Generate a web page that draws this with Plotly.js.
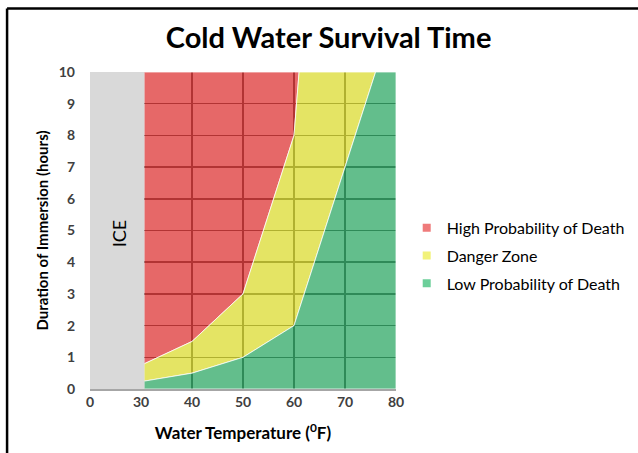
<!DOCTYPE html>
<html>
<head>
<meta charset="utf-8">
<script src="https://cdn.plot.ly/plotly-3.0.1.min.js"></script>
<style>html,body{margin:0;padding:0;background:#fff;}#chart{width:638px;height:453px;}</style>
</head>
<body>
<div id="chart"></div>
<script>
// Water temperature (°F) on the boundaries, and duration (hours)
const highBoundaryTemp = [30.7, 40, 50, 60, 61];
const highBoundaryHours = [0.8, 1.5, 3, 8, 10];
const lowBoundaryTemp = [30.7, 40, 50, 60, 76];
const lowBoundaryHours = [0.25, 0.5, 1, 2, 10];
const iceTemp = [20, 30.7];
const xTickVals = [20, 30, 40, 50, 60, 70, 80];
const xTickText = ['0', '30', '40', '50', '60', '70', '80'];
const seriesNames = ['High Probability of Death', 'Danger Zone', 'Low Probability of Death'];
const seriesColors = ['rgba(222,54,54,0.75)', 'rgba(219,219,48,0.75)', 'rgba(47,168,102,0.75)'];
const legendColors = ['#ef7b7b', '#f2f27a', '#6ccf9a'];

const X_MIN = 20, X_MAX = 80, Y_MIN = 0, Y_MAX = 10;
const rev = a => a.slice().reverse();

// High: above the high boundary
const redX = highBoundaryTemp.concat([highBoundaryTemp[0]]);
const redY = highBoundaryHours.concat([Y_MAX]);
// Danger: between the two boundaries
const yelX = highBoundaryTemp.concat([X_MAX], rev(lowBoundaryTemp));
const yelY = highBoundaryHours.concat([Y_MAX], rev(lowBoundaryHours));
// Low: below the low boundary
const grnX = lowBoundaryTemp.concat([X_MAX, X_MAX, lowBoundaryTemp[0]]);
const grnY = lowBoundaryHours.concat([Y_MAX, Y_MIN, Y_MIN]);

const font = 'Lato, "Open Sans", sans-serif';
const edge = {color: 'rgba(255,255,255,0.75)', width: 1};
const areas = [[redX, redY], [yelX, yelY], [grnX, grnY]];

const traces = [
  {x: [iceTemp[0], iceTemp[1], iceTemp[1], iceTemp[0]], y: [Y_MIN, Y_MIN, Y_MAX, Y_MAX],
   type: 'scatter', mode: 'lines', fill: 'toself', fillcolor: '#d9d9d9',
   line: {width: 0}, showlegend: false, hoverinfo: 'skip'}
];
areas.forEach((a, i) => traces.push({
  x: a[0], y: a[1], name: seriesNames[i], type: 'scatter', mode: 'lines', fill: 'toself',
  fillcolor: seriesColors[i], line: edge, showlegend: false
}));
// legend keys
seriesNames.forEach((n, i) => traces.push({
  x: [null], y: [null], name: n, type: 'scatter', mode: 'markers', legendgroup: 'g' + i,
  marker: {symbol: 'square', size: 8, color: legendColors[i]}
}));

const layout = {
  width: 638, height: 453,
  margin: {l: 90, r: 242, t: 72, b: 64, autoexpand: false},
  paper_bgcolor: '#fff', plot_bgcolor: '#fff',
  font: {family: font, size: 13, color: '#404040'},
  title: {text: '<b>Cold Water Survival Time</b>', x: 0.515, xanchor: 'center', y: 0.916, yanchor: 'middle',
          font: {family: font, size: 29, color: '#000'}},
  xaxis: {range: [X_MIN, X_MAX], tickvals: xTickVals, ticktext: xTickText,
          showgrid: true, gridcolor: 'rgba(50,50,50,1)', gridwidth: 1.5,
          zeroline: false, showline: true, linecolor: '#a6a6a6', linewidth: 1.5,
          ticks: '', tickfont: {family: font, size: 14, color: '#404040', weight: 'bold'},
          title: {text: '<b>Water Temperature (<sup>0</sup>F)</b>', standoff: 18,
                  font: {family: font, size: 17, color: '#000'}}, fixedrange: true},
  yaxis: {range: [Y_MIN, Y_MAX], dtick: 1, showgrid: true, gridcolor: 'rgba(50,50,50,1)', gridwidth: 1.5,
          zeroline: false, showline: false, ticks: '', ticklabelstandoff: 14,
          tickfont: {family: font, size: 14, color: '#404040', weight: 'bold'},
          title: {text: '<b>Duration of Immersion (hours)</b>', standoff: 6,
                  font: {family: font, size: 15, color: '#000'}}, fixedrange: true},
  legend: {x: 1.035, xanchor: 'left', y: 0.42, yanchor: 'middle', traceorder: 'grouped',
           font: {family: font, size: 16, color: '#000'}, itemwidth: 30, tracegroupgap: 4,
           bgcolor: 'rgba(0,0,0,0)'},
  annotations: [{x: 25.6, y: 4.9, xref: 'x', yref: 'y', text: 'ICE', showarrow: false, textangle: -90,
                 font: {family: font, size: 18, color: '#000'}}],
  shapes: [
    {type: 'line', xref: 'paper', yref: 'paper', x0: -0.271, x1: 1.8, y0: 1.2, y1: 1.2, line: {color: '#000', width: 2.5}},
    {type: 'line', xref: 'paper', yref: 'paper', x0: -0.271, x1: -0.271, y0: 1.2, y1: -0.22, line: {color: '#000', width: 2.5}}
  ],
  showlegend: true
};

Plotly.newPlot('chart', traces, layout, {displayModeBar: false, staticPlot: true});
</script>
</body>
</html>
